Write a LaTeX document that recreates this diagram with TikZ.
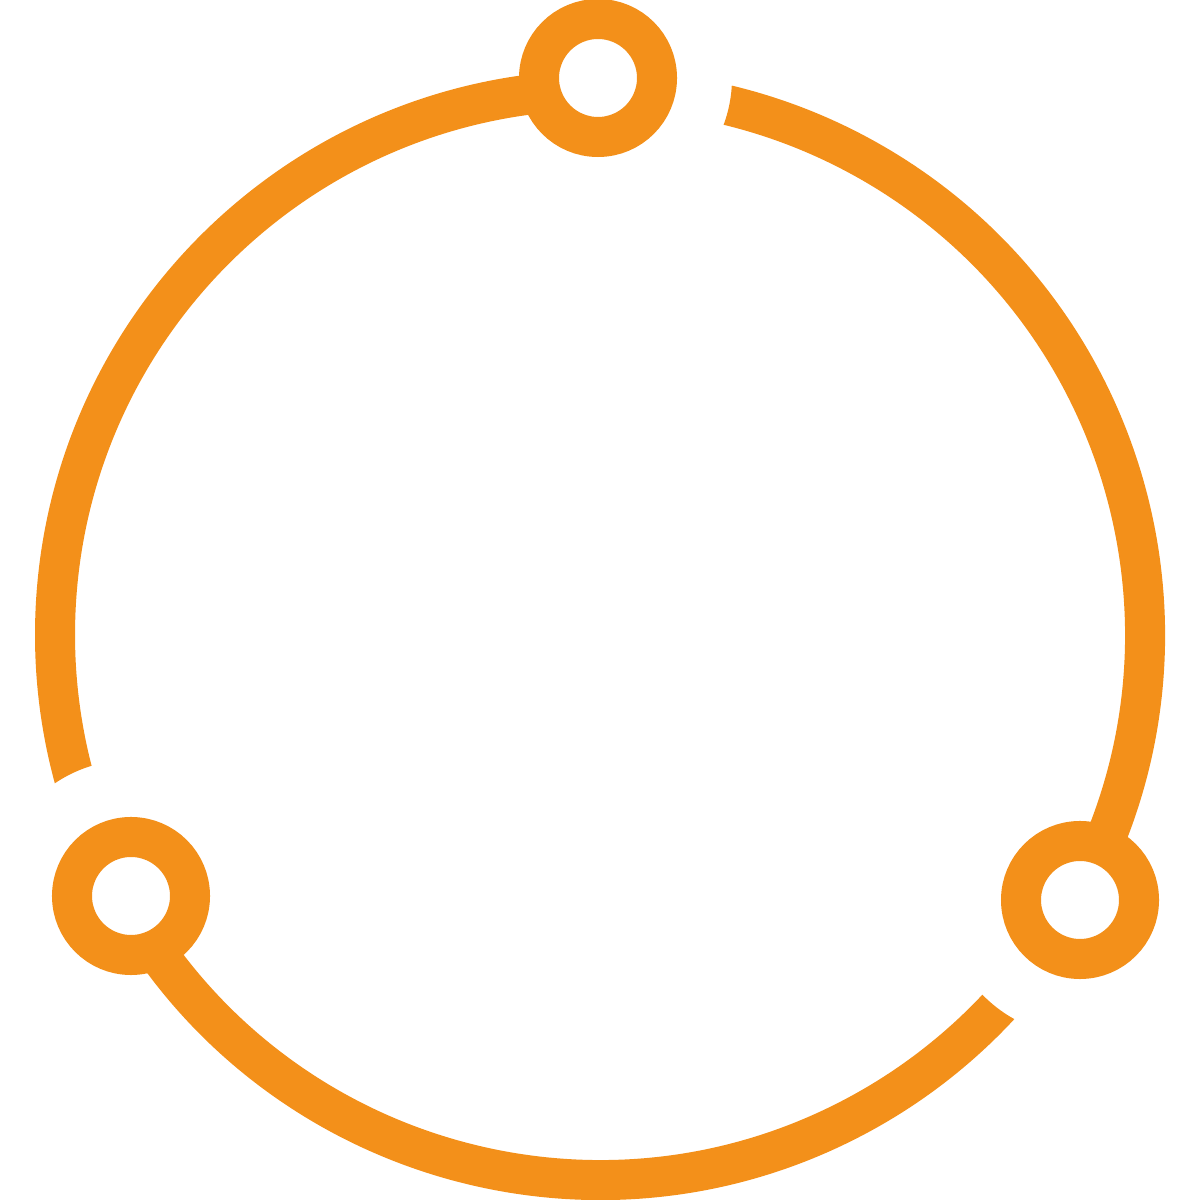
\documentclass[tikz,border=0pt]{standalone}
\definecolor{ringorange}{RGB}{243,144,26}
\begin{document}
\begin{tikzpicture}[x=0.01cm,y=0.01cm,
  bigring/.style={draw=ringorange,line width=0.4cm},
  hub/.style={draw=ringorange,line width=0.4cm,fill=white}]
\useasboundingbox (0,0) rectangle (1200,1200);
\coordinate (O) at (600,565);
\coordinate (T) at (598,1122);
\coordinate (BL) at (131,304);
\coordinate (R) at (1080,300);
% segment top -> bottom-left (gap at bottom-left)
\begin{scope}[even odd rule]
  \clip (-100,-100) rectangle (1300,1300) (BL) circle (136);
  \draw[bigring] (O) ++(90.2:545) arc (90.2:209.1:545);
\end{scope}
% segment bottom-left -> right (gap at right)
\begin{scope}[even odd rule]
  \clip (-100,-100) rectangle (1300,1300) (R) circle (136);
  \draw[bigring] (O) ++(209.1:545) arc (209.1:331.1:545);
\end{scope}
% segment right -> top (gap at top)
\begin{scope}[even odd rule]
  \clip (-100,-100) rectangle (1300,1300) (T) circle (134);
  \draw[bigring] (O) ++(-28.9:545) arc (-28.9:90.2:545);
\end{scope}
\draw[hub] (T) circle (59);
\draw[hub] (BL) circle (59);
\draw[hub] (R) circle (59);
\end{tikzpicture}
\end{document}
